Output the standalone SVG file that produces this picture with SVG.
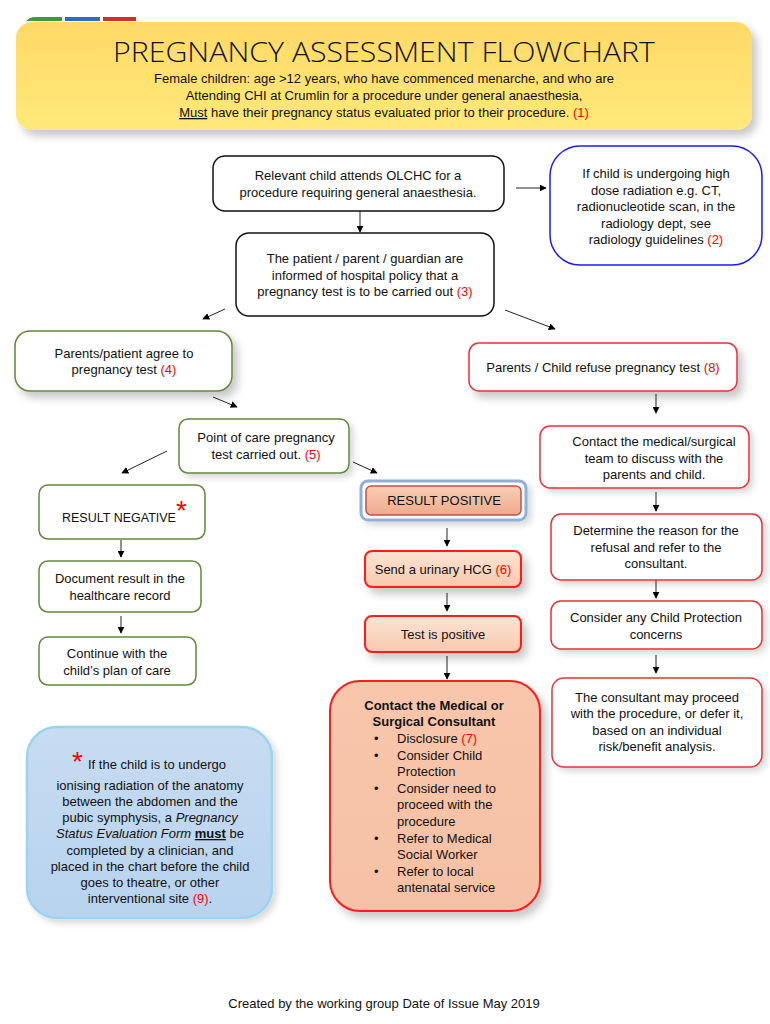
<svg xmlns="http://www.w3.org/2000/svg" width="770" height="1024" viewBox="0 0 770 1024">
<defs>
<style>
text{font-family:"Liberation Sans",Arial,sans-serif;font-size:13px;fill:#111;}
.c{text-anchor:middle;}
.r{fill:#ff0000;}
.box{fill:#fff;stroke-width:1.5;}
.blk{stroke:#111;}
.grn{stroke:#5f8a3a;}
.red{stroke:#e8323a;}
.con line{stroke:#222;stroke-width:1;marker-end:url(#ah);}
</style>
<marker id="ah" viewBox="0 0 10 10" refX="9" refY="5" markerWidth="7" markerHeight="7" orient="auto" markerUnits="userSpaceOnUse"><path d="M0,0L10,5L0,10z" fill="#000"/></marker>
<filter id="sh" x="-10%" y="-20%" width="130%" height="160%"><feDropShadow dx="5" dy="6" stdDeviation="4" flood-color="#000" flood-opacity="0.22"/></filter>
<filter id="shs" x="-10%" y="-20%" width="130%" height="160%"><feDropShadow dx="4" dy="4" stdDeviation="3" flood-color="#000" flood-opacity="0.15"/></filter>
<linearGradient id="yel" x1="0" y1="0" x2="0" y2="1"><stop offset="0" stop-color="#ffd966"/><stop offset="1" stop-color="#ffe97a"/></linearGradient>
<linearGradient id="peach" x1="0" y1="0" x2="0" y2="1"><stop offset="0" stop-color="#fde4d4"/><stop offset="1" stop-color="#f8c9ad"/></linearGradient>
<linearGradient id="pos" x1="0" y1="0" x2="0" y2="1"><stop offset="0" stop-color="#f9cfb6"/><stop offset="1" stop-color="#eeaa8a"/></linearGradient>
<linearGradient id="ora" x1="0" y1="0" x2="0" y2="1"><stop offset="0" stop-color="#f8c6ab"/><stop offset="1" stop-color="#f6c1a4"/></linearGradient>
<linearGradient id="blu" x1="0" y1="0" x2="0" y2="1"><stop offset="0" stop-color="#c6dcf1"/><stop offset="1" stop-color="#b8d3ee"/></linearGradient>
</defs>
<rect width="770" height="1024" fill="#fff"/>

<g id="header">
<path d="M26,22 Q28,17 36,17 L62,17 L62,21 L26,21z" fill="#3c9a3c"/>
<rect x="65" y="17" width="35" height="4" fill="#2a6fc0"/>
<rect x="103" y="17" width="33" height="4" fill="#d62b2b"/>
<rect x="16" y="22" width="736" height="108" rx="16" fill="url(#yel)" filter="url(#sh)"/>
<text class="c" x="384" y="62" style="font-family:'Open Sans','Liberation Sans',sans-serif;font-weight:300;font-size:27px" textLength="542" lengthAdjust="spacingAndGlyphs">PREGNANCY ASSESSMENT FLOWCHART</text>
<text class="c" x="384" y="83">Female children: age &gt;12 years, who have commenced menarche, and who are</text>
<text class="c" x="384" y="100">Attending CHI at Crumlin for a procedure under general anaesthesia,</text>
<text class="c" x="384" y="117"><tspan text-decoration="underline">Must</tspan> have their pregnancy status evaluated prior to their procedure. <tspan class="r">(1)</tspan></text>
</g>

<g class="con" id="connectors">
<line x1="360" y1="211" x2="360" y2="232"/>
<line x1="516" y1="188" x2="546" y2="188"/>
<line x1="225" y1="309" x2="203" y2="319"/>
<line x1="505" y1="310" x2="555" y2="329"/>
<line x1="213" y1="397" x2="237" y2="407"/>
<line x1="167" y1="451" x2="122" y2="473"/>
<line x1="353" y1="462" x2="377" y2="473"/>
<line x1="121" y1="540" x2="121" y2="557"/>
<line x1="121" y1="616" x2="121" y2="633"/>
<line x1="447" y1="528" x2="447" y2="546"/>
<line x1="447" y1="593" x2="447" y2="611"/>
<line x1="447" y1="656" x2="447" y2="679"/>
<line x1="656" y1="394" x2="656" y2="413"/>
<line x1="656" y1="492" x2="656" y2="511"/>
<line x1="656" y1="580" x2="656" y2="598"/>
<line x1="656" y1="655" x2="656" y2="673"/>
</g>

<g id="n1">
<rect class="box blk" x="213" y="156" width="291" height="55" rx="12"/>
<text class="c" x="358" y="180">Relevant child attends OLCHC for a</text>
<text class="c" x="358" y="197">procedure requiring general anaesthesia.</text>
</g>

<g id="radiology">
<rect class="box" x="550" y="146" width="212" height="119" rx="30" style="stroke:#1a1aff"/>
<text class="c" x="656" y="178">If child is undergoing high</text>
<text class="c" x="656" y="195">dose radiation e.g. CT,</text>
<text class="c" x="656" y="211">radionucleotide scan, in the</text>
<text class="c" x="656" y="228">radiology dept,  see</text>
<text class="c" x="656" y="244">radiology guidelines <tspan class="r">(2)</tspan></text>
</g>

<g id="n2">
<rect class="box blk" x="236" y="233" width="258" height="83" rx="13"/>
<text class="c" x="365" y="263">The patient / parent / guardian are</text>
<text class="c" x="365" y="280">informed of hospital policy that a</text>
<text class="c" x="365" y="296">pregnancy test is to be carried out <tspan class="r">(3)</tspan></text>
</g>

<g id="agree">
<rect class="box grn" x="15" y="331" width="217" height="60" rx="15" filter="url(#sh)"/>
<text class="c" x="124" y="358">Parents/patient agree to</text>
<text class="c" x="124" y="374">pregnancy test <tspan class="r">(4)</tspan></text>
</g>

<g id="poc">
<rect class="box grn" x="179" y="419" width="170" height="54" rx="9" filter="url(#shs)"/>
<text class="c" x="266" y="442">Point of care pregnancy</text>
<text class="c" x="266" y="459">test carried out. <tspan class="r">(5)</tspan></text>
</g>

<g id="negative">
<rect class="box grn" x="39" y="485" width="166" height="54" rx="9"/>
<text x="62" y="522" style="font-size:12.5px">RESULT NEGATIVE</text>
<text x="176" y="520" style="font-size:28px;fill:#ff0000">*</text>
</g>

<g id="document">
<rect class="box grn" x="39" y="561" width="162" height="51" rx="9"/>
<text class="c" x="120" y="583">Document result in the</text>
<text class="c" x="120" y="600">healthcare record</text>
</g>

<g id="continue">
<rect class="box grn" x="39" y="637" width="157" height="48" rx="9"/>
<text class="c" x="117" y="658">Continue with the</text>
<text class="c" x="117" y="675">child’s plan of care</text>
</g>

<g id="positive">
<rect x="361" y="481" width="165" height="39" rx="7" fill="#fff" stroke="#8fb0d8" stroke-width="3" filter="url(#shs)"/>
<rect x="366" y="486" width="155" height="29" rx="5" fill="url(#pos)" stroke="#c0504d" stroke-width="1.5"/>
<text class="c" x="444" y="505">RESULT POSITIVE</text>
</g>

<g id="hcg">
<rect x="365" y="551" width="156" height="36" rx="7" fill="url(#peach)" stroke="#ff1a1a" stroke-width="2" filter="url(#sh)"/>
<text class="c" x="443" y="574">Send a urinary HCG <tspan class="r">(6)</tspan></text>
</g>

<g id="testpos">
<rect x="365" y="616" width="156" height="36" rx="7" fill="url(#peach)" stroke="#ff1a1a" stroke-width="2" filter="url(#sh)"/>
<text class="c" x="443" y="639">Test is positive</text>
</g>

<g id="consultant">
<rect x="330" y="681" width="210" height="230" rx="30" fill="url(#ora)" stroke="#ff1a1a" stroke-width="2" filter="url(#sh)"/>
<text class="c" x="434" y="710" style="font-weight:bold">Contact the Medical or</text>
<text class="c" x="434" y="726" style="font-weight:bold">Surgical Consultant</text>
<text x="374" y="743">•</text><text x="397" y="743">Disclosure <tspan class="r">(7)</tspan></text>
<text x="374" y="760">•</text><text x="397" y="760">Consider Child</text>
<text x="397" y="776">Protection</text>
<text x="374" y="793">•</text><text x="397" y="793">Consider need to</text>
<text x="397" y="809">proceed with the</text>
<text x="397" y="826">procedure</text>
<text x="374" y="843">•</text><text x="397" y="843">Refer to Medical</text>
<text x="397" y="859">Social Worker</text>
<text x="374" y="876">•</text><text x="397" y="876">Refer to local</text>
<text x="397" y="892">antenatal service</text>
</g>

<g id="note">
<rect x="27" y="727" width="245" height="191" rx="30" fill="url(#blu)" stroke="#9ad4f0" stroke-width="2.5" filter="url(#shs)"/>
<text x="72" y="771" style="font-size:28px;fill:#ff0000">*</text>
<text x="88" y="769">If the child is to undergo</text>
<text class="c" x="150" y="790">ionising radiation of the anatomy</text>
<text class="c" x="150" y="806">between the abdomen and the</text>
<text class="c" x="150" y="822">pubic symphysis, a <tspan font-style="italic">Pregnancy</tspan></text>
<text class="c" x="150" y="838"><tspan font-style="italic">Status Evaluation Form</tspan> <tspan font-weight="bold" text-decoration="underline">must</tspan> be</text>
<text class="c" x="150" y="855">completed by a clinician, and</text>
<text class="c" x="150" y="871">placed in the chart before the child</text>
<text class="c" x="150" y="887">goes to theatre, or other</text>
<text class="c" x="150" y="903">interventional site <tspan class="r">(9)</tspan>.</text>
</g>

<g id="refuse">
<rect class="box red" x="469" y="343" width="268" height="48" rx="10" filter="url(#sh)"/>
<text class="c" x="603" y="372">Parents / Child refuse pregnancy test <tspan class="r">(8)</tspan></text>
</g>

<g id="contactteam">
<rect class="box red" x="540" y="426" width="209" height="62" rx="10" filter="url(#shs)"/>
<text class="c" x="654" y="446">Contact the medical/surgical</text>
<text class="c" x="654" y="463">team to discuss with the</text>
<text class="c" x="654" y="479">parents and child.</text>
</g>

<g id="determine">
<rect class="box red" x="551" y="514" width="211" height="66" rx="10" filter="url(#shs)"/>
<text class="c" x="656" y="535">Determine the reason for the</text>
<text class="c" x="656" y="552">refusal and refer to the</text>
<text class="c" x="656" y="568">consultant.</text>
</g>

<g id="protection">
<rect class="box red" x="551" y="601" width="211" height="48" rx="10" filter="url(#shs)"/>
<text class="c" x="656" y="622">Consider any Child Protection</text>
<text class="c" x="656" y="639">concerns</text>
</g>

<g id="proceed">
<rect class="box red" x="552" y="678" width="210" height="89" rx="12" filter="url(#shs)"/>
<text class="c" x="657" y="702">The consultant may proceed</text>
<text class="c" x="657" y="718">with the procedure, or defer it,</text>
<text class="c" x="657" y="735">based on an individual</text>
<text class="c" x="657" y="751">risk/benefit analysis.</text>
</g>

<g id="footer">
<text class="c" x="384" y="1008">Created by the working group Date of Issue May 2019</text>
</g>
</svg>
